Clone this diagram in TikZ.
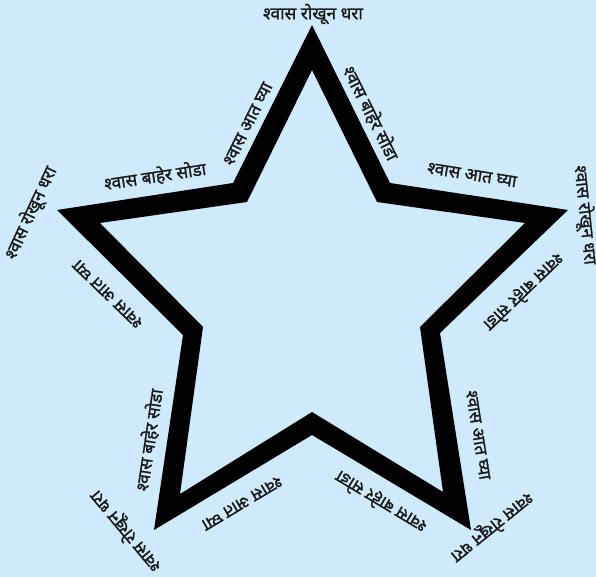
\documentclass[tikz,border=0pt]{standalone}
\usepackage{fontspec}
\newfontfamily\dev[Script=Devanagari, FakeBold=1.2]{Noto Sans}
\definecolor{bgblue}{RGB}{206,234,251}
\definecolor{txt}{RGB}{25,25,25}
\tikzset{
  lbl/.style={font=\dev\fontsize{13}{14}\selectfont, text=txt, inner sep=0pt, anchor=center},
}
\begin{document}
\begin{tikzpicture}[x=0.75pt,y=-0.75pt]
\useasboundingbox (0,0) rectangle (596,577);
\fill[bgblue] (0,0) rectangle (596,577);
% outer boundary
\coordinate (oT) at (312,25);
\coordinate (oURc) at (390,183);
\coordinate (oR) at (568,210);
\coordinate (oRc) at (440,333);
\coordinate (oBR) at (471,530);
\coordinate (oBc) at (312,435);
\coordinate (oBL) at (154,530);
\coordinate (oLc) at (183,335);
\coordinate (oL) at (57,210);
\coordinate (oULc) at (233,183);
% inner boundary
\coordinate (iT) at (312,70);
\coordinate (iURc) at (377,202);
\coordinate (iR) at (525,223);
\coordinate (iRc) at (420,327);
\coordinate (iBR) at (443,492);
\coordinate (iBc) at (312,412);
\coordinate (iBL) at (180,494);
\coordinate (iLc) at (203,327);
\coordinate (iL) at (100,223);
\coordinate (iULc) at (247,202);
\fill[black, even odd rule]
  (oT) -- (oURc) -- (oR) -- (oRc) -- (oBR) -- (oBc) -- (oBL) -- (oLc) -- (oL) -- (oULc) -- cycle
  (iT) -- (iURc) -- (iR) -- (iRc) -- (iBR) -- (iBc) -- (iBL) -- (iLc) -- (iL) -- (iULc) -- cycle;
% tip labels
\node[lbl] (tTop) at (313,14) {श्वास रोखून धरा};
\node[lbl, rotate=65] (tLeft) at (31,213) {श्वास रोखून धरा};
\node[lbl, rotate=-84] (tRight) at (585,215) {श्वास रोखून धरा};
\node[lbl, rotate=130] (tBL) at (126,531) {श्वास रोखून धरा};
\node[lbl, rotate=-141] (tBR) at (492,527) {श्वास रोखून धरा};
% edge labels
\node[lbl, rotate=63.4] (e1) at (248,124) {श्वास आत घ्या};
\node[lbl, rotate=-63.5] (e2) at (371,113) {श्वास बाहेर सोडा};
\node[lbl, rotate=8.7] (e3) at (155,176) {श्वास बाहेर सोडा};
\node[lbl, rotate=-9] (e4) at (472,175) {श्वास आत घ्या};
\node[lbl, rotate=136] (e5) at (108,294) {श्वास आत घ्या};
\node[lbl, rotate=81.5] (e6) at (149,440) {श्वास बाहेर सोडा};
\node[lbl, rotate=-149] (e7) at (242,503) {श्वास आत घ्या};
\node[lbl, rotate=149] (e8) at (381,502) {श्वास बाहेर सोडा};
\node[lbl, rotate=-81] (e9) at (478,435) {श्वास आत घ्या};
\node[lbl, rotate=-136] (e10) at (524,292) {श्वास बाहेर सोडा};
\end{tikzpicture}
\end{document}
